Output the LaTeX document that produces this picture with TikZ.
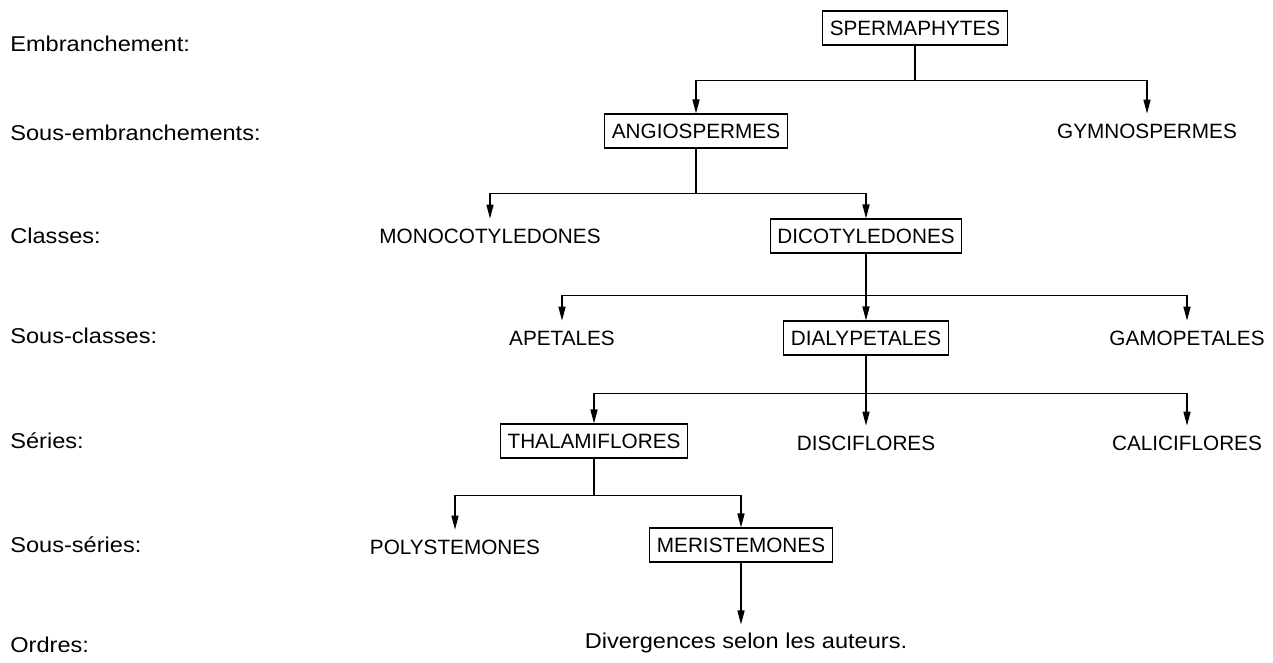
\documentclass[tikz,border=0pt]{standalone}
\usepackage{fontspec}
\setmainfont{Liberation Sans}
\newfontfamily\widesans[FakeStretch=1.1]{Liberation Sans}
\usetikzlibrary{arrows.meta}
\tikzset{
 a/.style
  = {rectangle, inner xsep=4pt, minimum height=0.68cm,
     font=\fontsize{11.8}{14}\selectfont},
 b/.style
  = {a, draw, line width=0.6pt},
 c/.style
  = {anchor=base west, inner sep=0pt, font=\widesans\fontsize{12.2}{14}\selectfont},
 d/.style
  = {inner sep=0pt, font=\widesans\fontsize{12.2}{14}\selectfont},
 l/.style
  = {draw, -{Triangle[length=8pt,width=4pt]}, line width=0.8pt}
}
\begin{document}
\begin{tikzpicture}[x=0.02cm, y=-0.02cm]
    \useasboundingbox (0,0) rectangle (1273,662);

    % rangs
    \node [c] (embr) at (10,52) {Embranchement:};
    \node [c] (sousembr) at (10,141) {Sous-embranchements:};
    \node [c] (classes) at (10,243) {Classes:};
    \node [c] (sousclasses) at (10,343) {Sous-classes:};
    \node [c] (series) at (10,448) {Séries:};
    \node [c] (sousseries) at (10,552) {Sous-séries:};
    \node [c] (ordres) at (10,652) {Ordres:};

    % taxons
    \node [b] (sperma) at (915,28) {SPERMAPHYTES};
    \node [b] (angio) at (696,131) {ANGIOSPERMES};
    \node [a] (gymno) at (1147,131) {GYMNOSPERMES};
    \node [a] (mono) at (490,236) {MONOCOTYLEDONES};
    \node [b] (dico) at (866,236) {DICOTYLEDONES};
    \node [a] (apet) at (562,338) {APETALES};
    \node [b] (dialy) at (866,338) {DIALYPETALES};
    \node [a] (gamo) at (1187,338) {GAMOPETALES};
    \node [b] (thala) at (594,441) {THALAMIFLORES};
    \node [a] (disci) at (866,443) {DISCIFLORES};
    \node [a] (calici) at (1187,443) {CALICIFLORES};
    \node [a] (poly) at (455,547) {POLYSTEMONES};
    \node [b] (meri) at (741,545) {MERISTEMONES};
    \node [d] (diverg) at (746,643) {Divergences selon les auteurs.};

    \path [l] (sperma.south) -- ++(0,35) -| (angio.north);
    \path [l] (sperma.south) -- ++(0,35) -| (gymno.north);
    \path [l] (angio.south) -- ++(0,45) -| (mono.north);
    \path [l] (angio.south) -- ++(0,45) -| (dico.north);
    \path [l] (dico.south) -- ++(0,42) -| (apet.north);
    \path [l] (dico.south) -- (dialy.north);
    \path [l] (dico.south) -- ++(0,42) -| (gamo.north);
    \path [l] (dialy.south) -- ++(0,38) -| (thala.north);
    \path [l] (dialy.south) -- (disci.north);
    \path [l] (dialy.south) -- ++(0,38) -| (calici.north);
    \path [l] (thala.south) -- ++(0,37) -| (poly.north);
    \path [l] (thala.south) -- ++(0,37) -| (meri.north);
    \path [l] (meri.south) -- ++(0,62);

\end{tikzpicture}
\end{document}
